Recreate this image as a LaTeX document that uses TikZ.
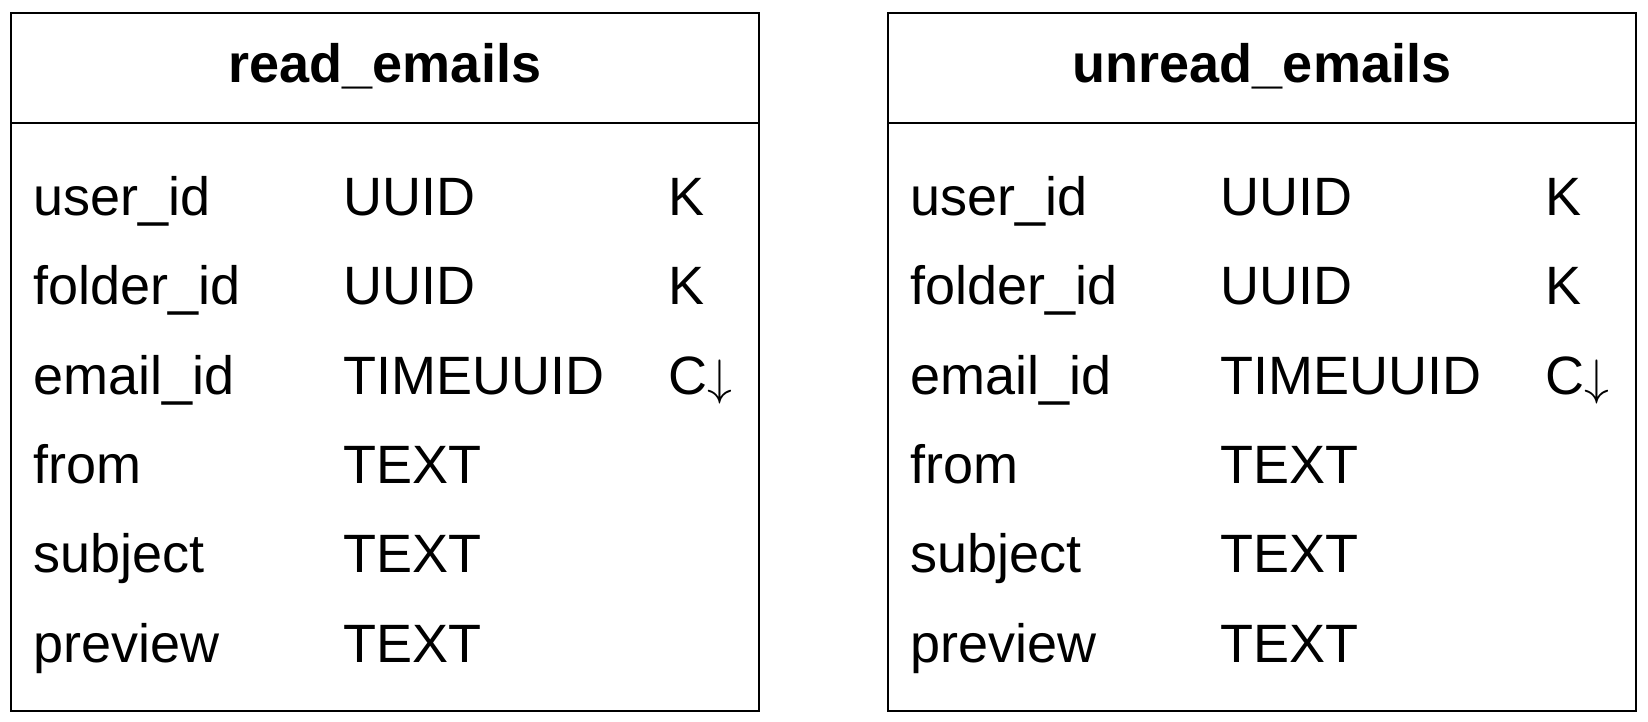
\documentclass[tikz,border=0pt]{standalone}
\usepackage{fontspec}
\setmainfont{Liberation Sans}
\begin{document}
\begin{tikzpicture}[x=0.5pt, y=-0.5pt,
    tbl/.style={draw=black, line width=1pt},
    title/.style={font=\fontsize{27}{30}\selectfont\bfseries, anchor=base, inner sep=0pt},
    cell/.style={font=\fontsize{27}{30}\selectfont, anchor=base west, inner sep=0pt}]
    \useasboundingbox (0,0) rectangle (1648,722);

    % Tables
    \foreach \tname/\tx/\tlabel in {read/11/read\_emails, unread/888/unread\_emails} {
        \draw[tbl] (\tx,13) rectangle (\tx+748,711);
        \draw[tbl] (\tx,123) -- (\tx+748,123);
        \node[title] (\tname-title) at (\tx+374,83) {\tlabel};

        % Columns
        \foreach \cname/\ctype/\ckey [count=\r] in {user\_id/UUID/K, folder\_id/UUID/K,
            email\_id/TIMEUUID/C$\downarrow$, from/TEXT/{}, subject/TEXT/{}, preview/TEXT/{}} {
            \node[cell] (\tname-name-\r) at (\tx+22,215.5+89.3*\r-89.3) {\cname};
            \node[cell] (\tname-type-\r) at (\tx+332,215.5+89.3*\r-89.3) {\ctype};
            \node[cell] (\tname-key-\r) at (\tx+657,215.5+89.3*\r-89.3) {\ckey};
        }
    }
\end{tikzpicture}
\end{document}
